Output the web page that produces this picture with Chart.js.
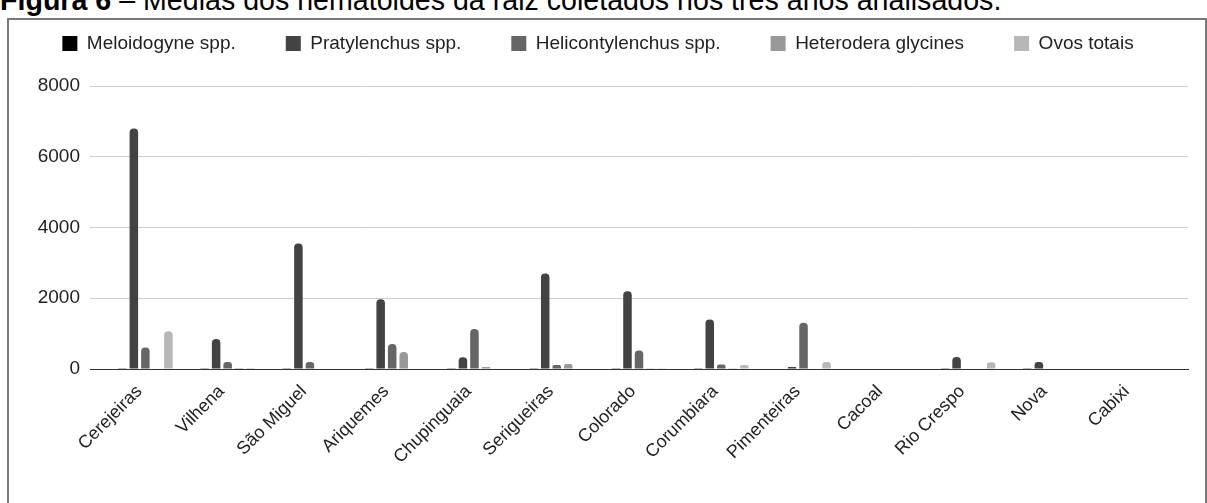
<!DOCTYPE html>
<html>
<head>
<meta charset="utf-8">
<script src="https://cdn.jsdelivr.net/npm/chart.js@4.4.1/dist/chart.umd.min.js"></script>
<style>
  html, body { margin: 0; padding: 0; background: #fff; }
  body { width: 1207px; height: 503px; position: relative; overflow: hidden; font-family: "Liberation Sans", Arial, sans-serif; }
  #caption { position: absolute; left: 0; top: -16px; font-size: 28.6px; color: #000; white-space: nowrap; }
  #frame { position: absolute; left: 7px; top: 18px; width: 1200px; height: 500px; border: 2px solid #7a7a7a; box-sizing: border-box; }
  #wrap { position: absolute; left: 0; top: 0; width: 1207px; height: 503px; }
</style>
</head>
<body>
<div id="caption"><b>Figura 6</b> – Médias dos nematoides da raiz coletados nos três anos analisados.</div>
<div id="frame"></div>
<div id="wrap"><canvas id="chart"></canvas></div>
<script>
// municipios
const categories = ['Cerejeiras', 'Vilhena', 'São Miguel', 'Ariquemes', 'Chupinguaia', 'Serigueiras',
    'Colorado', 'Corumbiara', 'Pimenteiras', 'Cacoal', 'Rio Crespo', 'Nova', 'Cabixi'];

// medias
const meloidogyne      = [10, 10, 10, 10, 10, 10, 10, 10, 15, 0, 10, 10, 0];
const pratylenchus     = [6800, 850, 3550, 1970, 330, 2700, 2200, 1400, 60, 0, 340, 200, 0];
const helicontylenchus = [610, 200, 200, 710, 1130, 110, 520, 130, 1310, 0, 0, 0, 0];
const heterodera       = [0, 25, 0, 480, 60, 140, 20, 20, 0, 0, 0, 0, 0];
const ovosTotais       = [1070, 25, 15, 0, 0, 0, 20, 110, 200, 0, 190, 0, 0];

const yTicks = [0, 2000, 4000, 6000, 8000];

const seriesNames = ['Meloidogyne spp.', 'Pratylenchus spp.', 'Helicontylenchus spp.', 'Heterodera glycines', 'Ovos totais'];
const seriesData = [meloidogyne, pratylenchus, helicontylenchus, heterodera, ovosTotais];
const seriesColors = ['#000000', '#434343', '#666666', '#999999', '#b7b7b7'];

const FONT = "'Liberation Sans', Arial, sans-serif";

// legenda com altura fixa (o padding grande so serve para espacar os itens)
const legendHeight = {
    id: 'legendHeight',
    beforeInit(chart) {
        const fit = chart.legend.fit;
        chart.legend.fit = function() {
            fit.bind(chart.legend)();
            this.height = 102;
        };
    }
};

new Chart(document.getElementById('chart').getContext('2d'), {
    type: 'bar',
    data: {
        labels: categories,
        datasets: seriesNames.map((name, i) => ({
            label: name,
            data: seriesData[i],
            backgroundColor: seriesColors[i],
            borderRadius: 4,
            borderSkipped: 'start',
            categoryPercentage: 0.7,
            barPercentage: 0.74
        }))
    },
    options: {
        responsive: true,
        maintainAspectRatio: false,
        animation: false,
        layout: { padding: { top: -16, left: 8, right: 19, bottom: 0 } },
        plugins: {
            legend: {
                position: 'top',
                labels: {
                    boxWidth: 15,
                    boxHeight: 15,
                    padding: 50,
                    color: '#222',
                    font: { family: FONT, size: 19 }
                }
            },
            tooltip: { enabled: false }
        },
        scales: {
            x: {
                grid: { display: false },
                border: { display: true, color: '#333', width: 1 },
                afterBuildTicks: s => {
                    // margem lateral dentro da area do grafico
                    s._startValue -= 0.173;
                    s._valueRange += 0.346;
                },
                afterFit: s => { s.height = 134; },
                ticks: {
                    minRotation: 45,
                    maxRotation: 45,
                    padding: 4,
                    labelOffset: -6,
                    color: '#222',
                    font: { family: FONT, size: 18 }
                }
            },
            y: {
                min: 0,
                max: 8000,
                afterBuildTicks: s => { s.ticks = yTicks.map(v => ({ value: v })); },
                afterFit: s => { s.width = 82; },
                border: { display: false },
                grid: {
                    color: c => c.tick && c.tick.value === 0 ? '#333' : '#cccccc',
                    drawTicks: false
                },
                ticks: {
                    padding: 10,
                    color: '#222',
                    font: { family: FONT, size: 19 },
                    callback: v => String(v)
                }
            }
        }
    },
    plugins: [legendHeight]
});
</script>
</body>
</html>
